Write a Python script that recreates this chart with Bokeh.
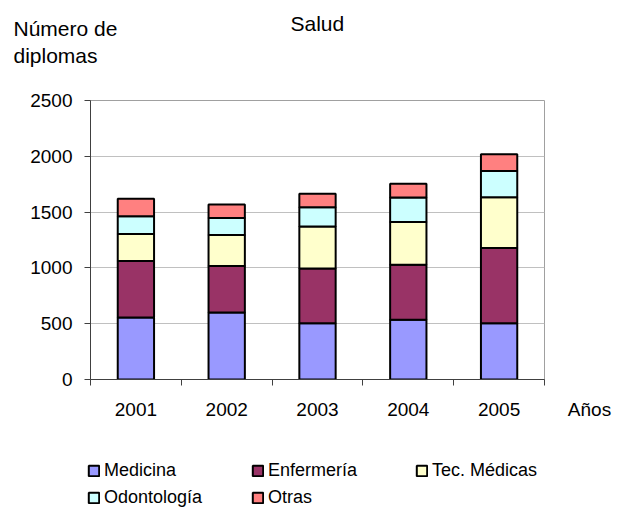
from bokeh.plotting import figure
from bokeh.models import (FixedTicker, Legend, LegendItem, ColumnDataSource, Range1d)
from bokeh.layouts import column, row
from bokeh.core.properties import value
from bokeh.embed import file_html
from bokeh.resources import INLINE

years = ["2001", "2002", "2003", "2004", "2005"]
series = ["Medicina", "Enfermería", "Tec. Médicas", "Odontología", "Otras"]
medicina = [556, 601, 505, 535, 505]
enfermeria = [505, 415, 490, 493, 673]
tec_medicas = [242, 278, 377, 383, 454]
odontologia = [159, 153, 171, 219, 236]
otras = [158, 122, 122, 125, 150]
colors = ["#9999FF", "#993366", "#FFFFCC", "#CCFFFF", "#FF8080"]
y_ticks = [0, 500, 1000, 1500, 2000, 2500]
title_text = "Salud"
y_title = ["Número de", "diplomas"]
x_title = "Años"

FONT = "Liberation Sans"
W = 630
HEAD_H, MAIN_H, LEG_H = 80, 360, 68
MAIN_W = 548
FL, FT, FR, FB = 90, 100, 544, 379   # plot-area edges in page pixels


def blank(width, height, x0, x1, y0, y1, x_axis=None):
    f = figure(width=width, height=height, output_backend="svg", toolbar_location=None,
               x_range=Range1d(x0, x1), y_range=Range1d(y1, y0),
               x_axis_location=x_axis, y_axis_location=None,
               min_border=0, min_border_left=0, min_border_right=0,
               min_border_top=0, min_border_bottom=0)
    f.outline_line_color = None
    f.xgrid.grid_line_color = None
    f.ygrid.grid_line_color = None
    f.background_fill_color = "white"
    f.border_fill_color = "white"
    return f

# ---- header with the chart title and the y-axis title
head = blank(W, HEAD_H, 0, W, 0, HEAD_H)
head.text(x=[290], y=[22.6], text=[title_text], text_font=value(FONT),
          text_font_size="21px", text_baseline="middle", text_color="black")
head.text(x=[13, 13], y=[28.3, 55], text=y_title, text_font=value(FONT),
          text_font_size="21px", text_baseline="middle", text_color="black")

# ---- main chart
x = [i + 0.5 for i in range(len(years))]
data = {"x": x, "Medicina": medicina, "Enfermería": enfermeria,
        "Tec. Médicas": tec_medicas, "Odontología": odontologia, "Otras": otras}
src = ColumnDataSource(data)

p = figure(width=MAIN_W, height=MAIN_H, output_backend="svg", toolbar_location=None,
           x_range=Range1d(0, len(years)), y_range=Range1d(0, 2500),
           min_border_left=FL, min_border_right=MAIN_W - FR,
           min_border_top=FT - HEAD_H, min_border_bottom=HEAD_H + MAIN_H - FB)
p.background_fill_color = "white"
p.border_fill_color = "white"
p.outline_line_color = "#A0A0A0"
p.outline_line_width = 1

renderers = p.vbar_stack(series, x="x", width=0.4, source=src, fill_color=colors,
                         line_color="black", line_width=2)

p.xaxis.ticker = FixedTicker(ticks=x, minor_ticks=list(range(len(years) + 1)))
p.xaxis.major_label_overrides = {xx: y for xx, y in zip(x, years)}
p.xaxis.major_tick_out = 0
p.xaxis.major_tick_in = 0
p.xaxis.minor_tick_out = 6
p.xaxis.minor_tick_in = 0
p.xaxis.minor_tick_line_color = "#404040"
p.xaxis.axis_line_color = "#404040"
p.xaxis.major_label_standoff = 17
p.xaxis.major_label_text_font = FONT
p.xaxis.major_label_text_font_size = "19px"
p.xaxis.major_label_text_color = "black"

p.yaxis.ticker = FixedTicker(ticks=y_ticks)
p.yaxis.major_tick_out = 6
p.yaxis.major_tick_in = 0
p.yaxis.major_tick_line_color = "#404040"
p.yaxis.minor_tick_line_color = None
p.yaxis.axis_line_color = "#404040"
p.yaxis.major_label_standoff = 12
p.yaxis.major_label_text_font = FONT
p.yaxis.major_label_text_font_size = "19px"
p.yaxis.major_label_text_color = "black"

p.xgrid.grid_line_color = None
p.ygrid.grid_line_color = "#C0C0C0"
p.ygrid.grid_line_width = 1

# ---- x-axis title at the right of the tick labels (axis title of a side strip)
side = blank(W - MAIN_W, MAIN_H, 0, 1, 0, 1, x_axis="below")
side.xaxis.ticker = FixedTicker(ticks=[])
side.xaxis.axis_line_color = None
side.xaxis.major_tick_line_color = None
side.xaxis.minor_tick_line_color = None
side.xaxis.major_tick_out = 0
side.xaxis.minor_tick_out = 0
side.xaxis.axis_label = x_title
side.xaxis.axis_label_standoff = 19
side.xaxis.axis_label_text_font = FONT
side.xaxis.axis_label_text_font_size = "19px"
side.xaxis.axis_label_text_font_style = "normal"
side.xaxis.axis_label_text_color = "black"

# ---- legend strip (its swatch renderers use the same data, hidden and out of view)
leg = blank(W, LEG_H, 10, 20, 3000, 4000)
swatches = leg.vbar_stack(series, x="x", width=0.4, source=src, fill_color=colors,
                          line_color="black", line_width=2, visible=False)
items = [LegendItem(label=s, renderers=[r]) for s, r in zip(series, swatches)]
legend = Legend(items=items, location=(87, -2.5), orientation="horizontal", ncols=3,
                glyph_width=13, glyph_height=13, label_standoff=4, label_width=147,
                label_height=27, spacing=0, padding=0, margin=0,
                border_line_color=None, background_fill_alpha=0,
                label_text_font=FONT, label_text_font_size="18px",
                label_text_color="black")
leg.add_layout(legend, "center")

layout = column(head, row(p, side, spacing=0), leg, spacing=0)
open("out.html", "w").write(file_html(layout, INLINE))
